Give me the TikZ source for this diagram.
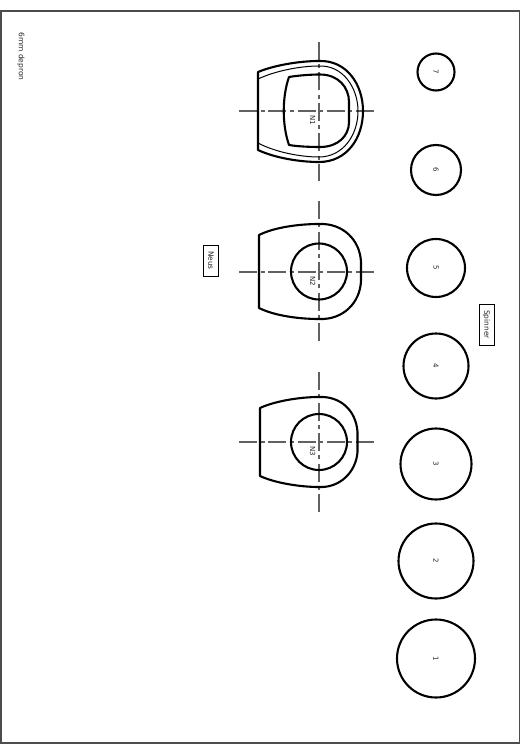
\documentclass[tikz,border=0pt]{standalone}
\usepackage{fontspec}
\setmainfont{DejaVu Sans}
\tikzset{
  profile/.style={line width=2.1pt,black,line join=round},
  thinprofile/.style={line width=1pt,black},
  axis/.style={line width=1.2pt,black!62,dash pattern=on 18pt off 3.6pt on 4pt off 3.65pt},
  axisv/.style={line width=1.2pt,black!62,dash pattern=on 18pt off 4.25pt on 4pt off 4.25pt},
  rib/.style={circle,draw=black,line width=2.1pt,inner sep=0pt,fill=none},
  lbl/.style={font=\fontsize{7}{8}\selectfont,rotate=-90,inner sep=0pt,text=black!85},
  tagbox/.style={draw=black,line width=0.9pt,font=\fontsize{7.4}{8}\selectfont,rotate=-90,minimum width=31pt,minimum height=15pt,inner sep=0pt,text=black!85},
}
\begin{document}
\begin{tikzpicture}[x=1pt,y=-1pt]
\useasboundingbox (0,0) rectangle (529,746);
\draw[line width=1.2pt,black!70] (1,11) rectangle (519.5,743);
\node[lbl,font=\fontsize{7.5}{9}\selectfont] (title) at (21,56.5) {6mm depron};

% axes
\coordinate (a1l) at (239,111); \coordinate (a1r) at (374,111);
\coordinate (a1t) at (319,42);  \coordinate (a1b) at (319,181);
\coordinate (a2l) at (239,272); \coordinate (a2r) at (374,272);
\coordinate (a2t) at (319,201);  \coordinate (a2b) at (319,341);
\coordinate (a3l) at (239,442); \coordinate (a3r) at (374,442);
\coordinate (a3t) at (319,372);  \coordinate (a3b) at (319,512);
\foreach \p in {1,2,3}{
  \draw[axis] (a\p l) -- (a\p r);
  \draw[axisv] (a\p t) -- (a\p b);
}

% N1
\draw[profile] (258,72) .. controls (275,65) and (300,61) .. (319,61)
  .. controls (347,60) and (363,85) .. (363,111)
  .. controls (363,138) and (347,162) .. (319,162)
  .. controls (300,162) and (275,158) .. (258,150) -- cycle;
\draw[thinprofile] (258,79) .. controls (275,71) and (300,66) .. (319,66)
  .. controls (343,65) and (358,88) .. (358,111)
  .. controls (358,135) and (343,157) .. (319,157)
  .. controls (300,157) and (275,152) .. (258,143);
\draw[profile] (289,77) .. controls (298,75.5) and (310,74.5) .. (320,74.5)
  .. controls (338,74.5) and (349,87) .. (349,102)
  -- (349,122) .. controls (349,136) and (338,147) .. (320,147)
  .. controls (310,147) and (298,146.5) .. (289,145)
  .. controls (282,125) and (282,97) .. (289,77) -- cycle;
\node[lbl] (n1) at (312.7,120.5) {N1};

% N2
\draw[profile] (259,235) .. controls (275,227) and (300,224) .. (319,224)
  .. controls (343,223) and (360,240) .. (361,262) -- (361,281)
  .. controls (360,303) and (343,320) .. (319,319)
  .. controls (300,319) and (275,316) .. (259,308) -- cycle;
\node[rib,minimum size=56pt] (c2) at (319,271.5) {};
\node[lbl] (n2) at (312.7,281.5) {N2};

% N3
\draw[profile] (260,408) .. controls (275,401) and (300,397) .. (319,397)
  .. controls (340,396) and (356,410) .. (357.5,432) -- (357.5,452)
  .. controls (356,472) and (340,488) .. (319,487)
  .. controls (300,487) and (275,483) .. (260,476) -- cycle;
\node[rib,minimum size=56pt] (c3) at (319,442) {};
\node[lbl] (n3) at (312.7,451.5) {N3};

% tags
\node[tagbox] (neus) at (211,260.5) {Neus};
\node[tagbox,minimum width=41pt] (spinner) at (486.5,324.5) {Spinner};

% spinner ribs
\node[rib,minimum size=37pt] (r7) at (436,72) {};
\node[lbl] at (r7) {7};
\node[rib,minimum size=50pt] (r6) at (436,170) {};
\node[lbl] at (r6) {6};
\node[rib,minimum size=58pt] (r5) at (436,268) {};
\node[lbl] at (r5) {5};
\node[rib,minimum size=65pt] (r4) at (436,366) {};
\node[lbl] at (r4) {4};
\node[rib,minimum size=71pt] (r3) at (436,464) {};
\node[lbl] at (r3) {3};
\node[rib,minimum size=75pt] (r2) at (436,561) {};
\node[lbl] at (r2) {2};
\node[rib,minimum size=78pt] (r1) at (436,658.5) {};
\node[lbl] at (r1) {1};
\end{tikzpicture}
\end{document}
